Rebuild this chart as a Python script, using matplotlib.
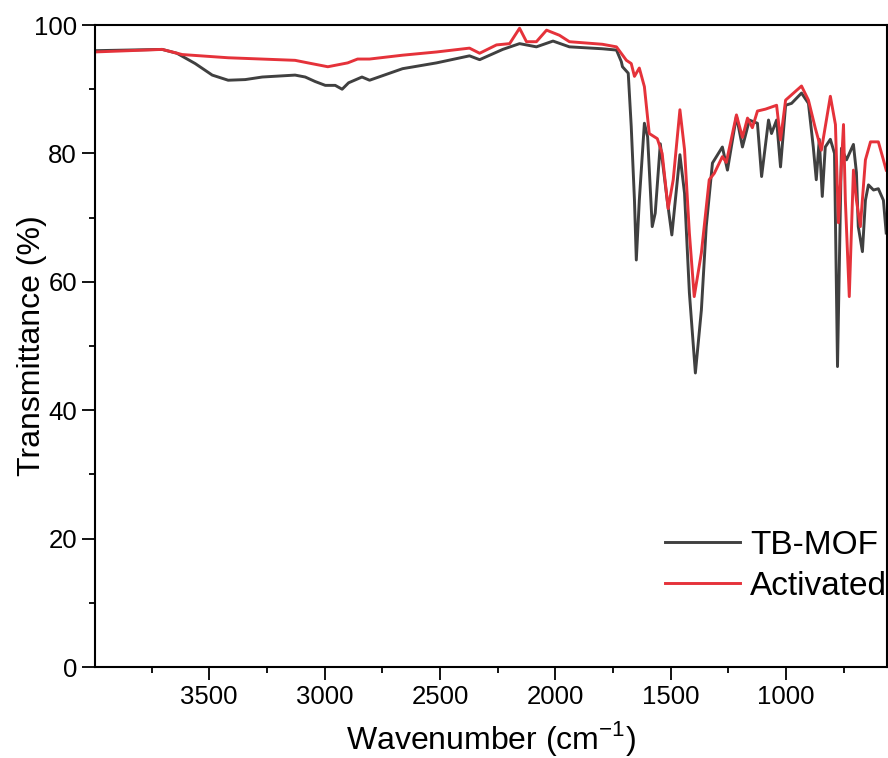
import matplotlib.pyplot as plt
from matplotlib.ticker import MultipleLocator

plt.rcParams['font.family'] = ['Liberation Sans', 'DejaVu Sans']
plt.rcParams['mathtext.fontset'] = 'custom'
plt.rcParams['mathtext.rm'] = 'Liberation Sans'

# TB-MOF spectrum (wavenumber in cm-1, transmittance in %)
wn_mof = [4000, 3850, 3704, 3640, 3561, 3487, 3418, 3344, 3270, 3128, 3084, 3041,
          2997, 2954, 2924, 2896, 2838, 2805, 2662, 2515, 2372, 2328, 2228, 2155,
          2082, 2010, 1939, 1796, 1735, 1714, 1709, 1684, 1671, 1657, 1649, 1636,
          1614, 1600, 1580, 1567, 1545, 1515, 1495, 1460, 1440, 1419, 1393, 1367,
          1346, 1319, 1276, 1254, 1215, 1189, 1159, 1124, 1106, 1076, 1063, 1041,
          1024, 1002, 976, 933, 903, 882, 869, 856, 843, 830, 808, 790, 777, 760,
          738, 708, 695, 687, 669, 656, 643, 621, 600, 578, 566]
t_mof = [96.0, 96.1, 96.2, 95.6, 94.0, 92.2, 91.4, 91.5, 91.9, 92.2, 91.9, 91.2,
         90.6, 90.6, 90.0, 91.0, 91.9, 91.4, 93.2, 94.1, 95.2, 94.6, 96.2, 97.1,
         96.6, 97.5, 96.6, 96.3, 96.1, 94.3, 93.5, 92.5, 84.2, 72.7, 63.4, 72.7,
         84.7, 82.6, 68.6, 70.7, 81.5, 72.7, 67.3, 79.8, 73.8, 58.3, 45.8, 55.6,
         68.6, 78.5, 81.0, 77.4, 85.8, 81.0, 85.2, 84.7, 76.4, 85.2, 83.1, 85.2,
         77.9, 87.5, 87.8, 89.4, 87.8, 81.0, 75.9, 82.2, 73.3, 81.0, 82.2, 80.0,
         46.8, 80.8, 79.0, 81.4, 77.0, 68.6, 64.7, 72.7, 75.1, 74.3, 74.5, 72.7,
         67.6]

# Activated spectrum
wn_act = [4000, 3850, 3704, 3617, 3418, 3128, 3072, 2986, 2900, 2857, 2805, 2662,
          2515, 2372, 2328, 2255, 2198, 2155, 2125, 2082, 2038, 1982, 1939, 1796,
          1735, 1692, 1671, 1657, 1636, 1614, 1593, 1558, 1537, 1511, 1489, 1460,
          1440, 1419, 1398, 1367, 1333, 1311, 1276, 1259, 1215, 1189, 1167, 1146,
          1124, 1089, 1041, 1024, 1002, 933, 903, 873, 847, 808, 786, 773, 751,
          743, 726, 708, 695, 678, 656, 634, 600, 578, 566]
t_act = [95.8, 96.0, 96.2, 95.4, 94.9, 94.5, 94.1, 93.5, 94.1, 94.7, 94.7, 95.3,
         95.8, 96.4, 95.6, 96.9, 97.1, 99.5, 97.4, 97.4, 99.2, 98.4, 97.4, 97.0,
         96.6, 94.5, 94.0, 92.0, 93.3, 90.4, 83.1, 82.3, 80.0, 71.4, 75.9, 86.8,
         80.6, 67.6, 57.7, 64.5, 75.9, 76.9, 79.5, 78.6, 86.0, 82.5, 85.5, 84.0,
         86.6, 86.9, 87.5, 82.1, 88.3, 90.5, 88.3, 83.9, 80.5, 88.9, 84.5, 69.2,
         84.5, 72.7, 57.7, 77.4, 72.7, 68.6, 79.0, 81.8, 81.8, 79.0, 77.4]

fig = plt.figure(figsize=(8.88, 7.58), dpi=100)
ax = fig.add_axes([0.107, 0.12, 0.892, 0.847])

ax.plot(wn_mof, t_mof, color='#404040', lw=2.1, label='TB-MOF')
ax.plot(wn_act, t_act, color='#e5323a', lw=2.1, label='Activated')

ax.set_xlim(3995, 562)
ax.set_ylim(0, 100)
ax.xaxis.set_major_locator(MultipleLocator(500))
ax.xaxis.set_minor_locator(MultipleLocator(250))
ax.yaxis.set_major_locator(MultipleLocator(20))
ax.yaxis.set_minor_locator(MultipleLocator(10))
ax.tick_params(which='major', direction='out', length=9.5, width=1.3, labelsize=18.5)
ax.tick_params(which='minor', direction='out', length=4.5, width=1.3)
for s in ax.spines.values():
    s.set_linewidth(1.5)

ax.set_xlabel('Wavenumber (cm$^{-1}$)', fontsize=23)
ax.set_ylabel('Transmittance (%)', fontsize=23)
ax.xaxis.set_label_coords(0.5, -0.081)
ax.yaxis.set_label_coords(-0.060, 0.5)

ax.legend(loc='upper left', bbox_to_anchor=(0.72, 0.214), frameon=False, fontsize=24,
          borderpad=0, borderaxespad=0, handlelength=2.25, handletextpad=0.3,
          labelspacing=0.3)

fig.savefig('out.png', dpi=100)
